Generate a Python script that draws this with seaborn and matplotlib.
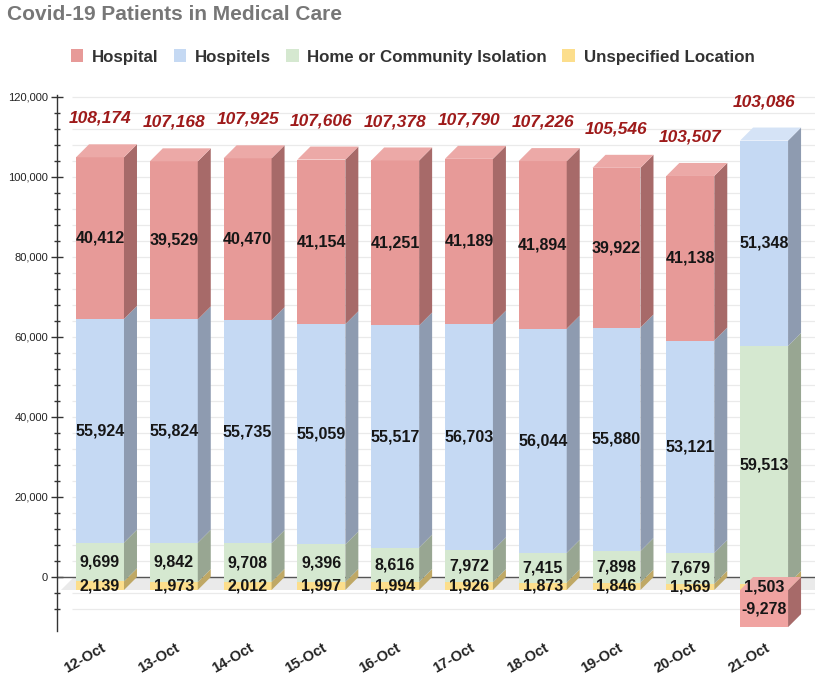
import numpy as np
import matplotlib
matplotlib.use("Agg")
import matplotlib.pyplot as plt
from matplotlib.patches import Polygon, Patch
from matplotlib.ticker import FixedLocator, FuncFormatter
from matplotlib.transforms import ScaledTranslation
import seaborn as sns

# ----------------- Data -----------------
days = ["12-Oct", "13-Oct", "14-Oct", "15-Oct", "16-Oct",
        "17-Oct", "18-Oct", "19-Oct", "20-Oct", "21-Oct"]
hospital = [40412, 39529, 40470, 41154, 41251, 41189, 41894, 39922, 41138, -9278]
hospitels = [55924, 55824, 55735, 55059, 55517, 56703, 56044, 55880, 53121, 51348]
home_isolation = [9699, 9842, 9708, 9396, 8616, 7972, 7415, 7898, 7679, 59513]
unspecified = [2139, 1973, 2012, 1997, 1994, 1926, 1873, 1846, 1569, 1503]

# ----------------- Style -----------------
BAR_W = 0.65        # front face width (category units)
DEPTH_X = 0.176     # 3d depth, x direction
DEPTH_Y = 3250      # 3d depth, y direction (data units)

# stacking order bottom -> top: (label, values, front, side, top)
series = [
    ("Unspecified Location", unspecified, "#FCDE8C", "#BFA865", "#FDE9B0"),
    ("Home or Community Isolation", home_isolation, "#D5E8D0", "#98A692", "#E2EEDD"),
    ("Hospitels", hospitels, "#C5D9F3", "#8E9BB0", "#D5E3F6"),
    ("Hospital", hospital, "#E79A98", "#A76A69", "#ECA9A7"),
]
legend_order = ["Hospital", "Hospitels", "Home or Community Isolation", "Unspecified Location"]

sns.set_theme(style="white")
plt.rcParams["font.family"] = ["Liberation Sans", "DejaVu Sans"]

fig = plt.figure(figsize=(8.2, 6.86), dpi=100)
ax = fig.add_axes([57 / 820, 55 / 686, 758 / 820, 536 / 686])

n = len(days)
xs = np.arange(n)
pos_base = np.zeros(n)
neg_base = np.zeros(n)
top_face = [None] * n

for name, vals, c_front, c_side, c_top in series:
    vals = np.array(vals, dtype=float)
    bottoms = np.where(vals >= 0, pos_base, neg_base + vals)
    heights = np.abs(vals)
    neg = vals < 0
    # front faces drawn through seaborn
    sns.barplot(x=days, y=heights, bottom=bottoms - DEPTH_Y, color=c_front,
                width=BAR_W, saturation=1, errorbar=None, linewidth=0,
                zorder=3, ax=ax)
    for i in range(n):
        l = xs[i] - BAR_W / 2
        r = xs[i] + BAR_W / 2
        y0, y1 = bottoms[i], bottoms[i] + heights[i]
        zz = 4 if neg[i] else 3
        side = Polygon([(r, y0 - DEPTH_Y), (r + DEPTH_X, y0), (r + DEPTH_X, y1), (r, y1 - DEPTH_Y)],
                       closed=True, facecolor=c_side, edgecolor="none", zorder=zz)
        ax.add_patch(side)
        if neg[i]:
            # negative box sits over the base of the stack: redraw front and top face
            ax.add_patch(Polygon([(l, y0 - DEPTH_Y), (r, y0 - DEPTH_Y), (r, y1 - DEPTH_Y), (l, y1 - DEPTH_Y)],
                                 closed=True, facecolor="#F0A3A1", edgecolor="none", zorder=4))
            ax.add_patch(Polygon([(l, y1 - DEPTH_Y), (r, y1 - DEPTH_Y), (r + DEPTH_X, y1), (l + DEPTH_X, y1)],
                                 closed=True, facecolor=c_top, edgecolor="none", zorder=4))
        else:
            top_face[i] = (y1, c_top)
        ax.text(xs[i], y0 + heights[i] / 2 - DEPTH_Y, f"{int(vals[i]):,}", ha="center", va="center",
                fontsize=11.5, fontweight="bold", color="#161616", zorder=6)
    pos_base = pos_base + np.where(vals >= 0, vals, 0)
    neg_base = neg_base + np.where(vals < 0, vals, 0)

# top faces of the positive stacks
for i, (y1, c_top) in enumerate(top_face):
    l = xs[i] - BAR_W / 2
    r = xs[i] + BAR_W / 2
    ax.add_patch(Polygon([(l, y1 - DEPTH_Y), (r, y1 - DEPTH_Y), (r + DEPTH_X, y1), (l + DEPTH_X, y1)],
                         closed=True, facecolor=c_top, edgecolor="none", zorder=3))

# totals
totals = pos_base + neg_base
for i in range(n):
    ax.annotate(f"{int(totals[i]):,}", xy=(xs[i], pos_base[i]), xytext=(0, 18.7),
                textcoords="offset points", ha="center", va="center",
                fontsize=12.5, fontweight="bold", fontstyle="italic", color="#9E1A1A", zorder=6)

# ----------------- Axes -----------------
x_lo, x_hi = -0.583, 9.69
ax.set_xlim(x_lo, x_hi)
ax.set_ylim(-13500, 120500)

# floor band
ax.add_patch(Polygon([(x_lo + 0.05, -DEPTH_Y), (x_hi, -DEPTH_Y), (x_hi, 0), (x_lo + 0.05 + DEPTH_X, 0)],
                     closed=True, facecolor="#EAEAEA", edgecolor="none", zorder=1))
grid_levels = [v for v in range(-8000, 120001, 4000) if v != 0]
ax.hlines(grid_levels, x_lo + 0.2, x_hi, colors="#EAEAEA", linewidth=0.9, zorder=0)
ax.hlines([0], x_lo, x_hi, colors="#555555", linewidth=1.0, zorder=2)

ax.yaxis.set_major_locator(FixedLocator(list(range(0, 120001, 20000))))
ax.yaxis.set_minor_locator(FixedLocator([v for v in range(-8000, 120001, 4000) if v % 20000 != 0]))
ax.yaxis.set_major_formatter(FuncFormatter(lambda v, p: f"{int(v):,}"))
ax.tick_params(axis="y", which="major", direction="inout", length=9, width=1, color="#333333",
               labelsize=8, labelcolor="#222222", pad=2, left=True)
ax.tick_params(axis="y", which="minor", direction="inout", length=4.5, width=1, color="#333333", left=True)

ax.set_xticks(xs)
ax.set_xticklabels(days, rotation=30, ha="right", va="center", rotation_mode="anchor",
                   fontsize=10.5, fontweight="bold", color="#222222")
ax.tick_params(axis="x", length=0, pad=11.5)
for lab in ax.get_xticklabels():
    lab.set_transform(lab.get_transform() + ScaledTranslation(0.045, 0, fig.dpi_scale_trans))

ax.set_xlabel("")
ax.set_ylabel("")
for s in ["top", "right", "bottom"]:
    ax.spines[s].set_visible(False)
ax.spines["left"].set_color("#333333")
ax.spines["left"].set_linewidth(1)

# ----------------- Title & legend -----------------
fig.text(7 / 820, 1 - 14 / 686, "Covid-19 Patients in Medical Care", ha="left", va="center",
         fontsize=15, fontweight="bold", color="#777777")

colors = {s[0]: s[2] for s in series}
handles = [Patch(facecolor=colors[k], edgecolor="none", label=k) for k in legend_order]
fig.legend(handles=handles, loc="center", bbox_to_anchor=(0.503, 1 - 57 / 686), ncol=4,
           frameon=False, prop={"weight": "bold", "size": 12.2}, labelcolor="#333333",
           handlelength=0.75, handleheight=0.75, handletextpad=0.5, columnspacing=0.9)

fig.savefig("out.png", dpi=100)
